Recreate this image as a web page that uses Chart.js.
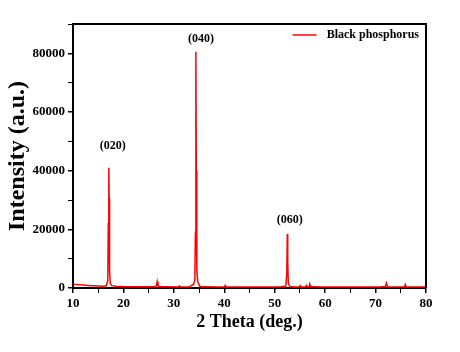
<!DOCTYPE html>
<html>
<head>
<meta charset="utf-8">
<script src="https://cdn.jsdelivr.net/npm/chart.js@4.4.1/dist/chart.umd.min.js"></script>
<style>
  html, body { margin: 0; padding: 0; background: #fff; }
  #wrap { width: 460px; height: 352px; }
</style>
</head>
<body>
<div id="wrap"><canvas id="c" width="460" height="352"></canvas></div>
<script>
const seriesName = 'Black phosphorus';
const twoTheta = [10,11,12,13,14,15,16,16.6,16.9,17.0,17.1,17.17,17.25,17.4,17.7,18.5,20,22,24,26,26.55,26.7,26.85,27.1,28.5,30.9,31.1,31.3,33,33.9,34.15,34.28,34.37,34.45,34.55,34.75,35.2,36.5,38.5,40.05,40.2,40.35,42,45,48,51,52.2,52.4,52.5,52.58,52.7,53.0,54,54.9,55.05,55.2,56.1,56.3,56.5,56.8,56.95,57.2,59,63,67,71,71.95,72.15,72.3,72.5,74,75.7,75.9,76.05,76.3,78,80];
const intensity = [1300,1150,1000,880,780,680,600,750,2500,22000,41000,30500,6000,1500,800,600,500,450,420,400,700,2200,900,420,400,380,700,380,380,1200,2500,19000,80500,40000,6000,2000,450,400,380,380,900,380,380,380,360,360,600,5000,18400,9000,1500,500,380,380,800,380,380,900,400,500,1300,500,360,360,350,350,500,1700,700,360,350,400,1200,500,350,350,300];
const xTicksMajor = [10,20,30,40,50,60,70,80];
const yTicksMajor = [0,20000,40000,60000,80000];
const peakLabels = ['(020)','(040)','(060)'];
const peakLabelX = [17.9, 35.4, 53.0];
const peakLabelY = [48500, 85000, 23300];

const serif = "'Liberation Serif', 'Times New Roman', serif";
const points = twoTheta.map((x, i) => ({x: x, y: intensity[i]}));

const framePlugin = {
  id: 'frame',
  afterDraw(chart) {
    const {ctx, chartArea: a} = chart;
    ctx.save();
    ctx.strokeStyle = '#000';
    ctx.lineWidth = 2;
    ctx.beginPath();
    ctx.moveTo(a.left, a.top);
    ctx.lineTo(a.right, a.top);
    ctx.lineTo(a.right, a.bottom);
    ctx.stroke();
    ctx.restore();
  }
};

// legend drawn inside the top-right corner of the plot area
const innerLegendPlugin = {
  id: 'innerLegend',
  afterDraw(chart) {
    const {ctx, chartArea: a} = chart;
    const ds = chart.data.datasets[0];
    ctx.save();
    ctx.font = 'bold 12px ' + serif;
    const tw = ctx.measureText(ds.label).width;
    const textRight = a.right - 7;
    const textLeft = textRight - tw;
    const cy = a.top + 11;
    ctx.fillStyle = '#000';
    ctx.textAlign = 'left';
    ctx.textBaseline = 'middle';
    ctx.fillText(ds.label, textLeft, cy);
    ctx.strokeStyle = ds.borderColor;
    ctx.lineWidth = 1.5;
    ctx.beginPath();
    ctx.moveTo(textLeft - 34, cy);
    ctx.lineTo(textLeft - 10, cy);
    ctx.stroke();
    ctx.restore();
  }
};

const peakLabelPlugin = {
  id: 'peakLabels',
  afterDatasetsDraw(chart) {
    const {ctx, scales} = chart;
    ctx.save();
    ctx.font = 'bold 12px ' + serif;
    ctx.fillStyle = '#000';
    ctx.textAlign = 'center';
    ctx.textBaseline = 'middle';
    peakLabels.forEach((t, i) => {
      ctx.fillText(t, scales.x.getPixelForValue(peakLabelX[i]), scales.y.getPixelForValue(peakLabelY[i]));
    });
    ctx.restore();
  }
};

new Chart(document.getElementById('c'), {
  type: 'scatter',
  data: {
    datasets: [{
      label: seriesName,
      data: points,
      showLine: true,
      borderColor: '#ff0000',
      backgroundColor: '#ff0000',
      borderWidth: 1.5,
      pointRadius: 0,
      tension: 0
    }]
  },
  options: {
    responsive: false,
    animation: false,
    layout: { padding: { left: 0, right: 34, top: 24, bottom: 0 } },
    plugins: {
      legend: { display: false },
      tooltip: { enabled: false }
    },
    scales: {
      x: {
        type: 'linear',
        min: 10, max: 80,
        afterFit: s => { s.height = 64; },
        border: { color: '#000', width: 2 },
        grid: {
          drawOnChartArea: false, drawTicks: true, tickLength: 5,
          color: '#000',
          lineWidth: c => xTicksMajor.includes(c.tick && c.tick.value) ? 1.5 : 1
        },
        ticks: {
          stepSize: 5,
          color: '#000',
          padding: 3,
          maxRotation: 0,
          autoSkip: false,
          font: { family: serif, size: 13, weight: 'bold' },
          callback: v => xTicksMajor.includes(v) ? String(v) : ''
        },
        title: {
          display: true,
          text: '2 Theta (deg.)',
          color: '#000',
          font: { family: serif, size: 18, weight: 'bold' },
          padding: { top: 0, bottom: 19 }
        }
      },
      y: {
        min: 0, max: 90000,
        afterFit: s => { s.width = 73; },
        border: { color: '#000', width: 2 },
        grid: {
          drawOnChartArea: false, drawTicks: true, tickLength: 5,
          color: '#000',
          lineWidth: c => yTicksMajor.includes(c.tick && c.tick.value) ? 1.5 : 1
        },
        ticks: {
          stepSize: 10000,
          color: '#000',
          padding: 3,
          autoSkip: false,
          font: { family: serif, size: 13, weight: 'bold' },
          callback: v => yTicksMajor.includes(v) ? String(v) : ''
        },
        title: {
          display: true,
          text: 'Intensity (a.u.)',
          color: '#000',
          font: { family: serif, size: 24, weight: 'bold' },
          padding: { top: 3, bottom: 0 }
        }
      }
    }
  },
  plugins: [framePlugin, innerLegendPlugin, peakLabelPlugin]
});
</script>
</body>
</html>
